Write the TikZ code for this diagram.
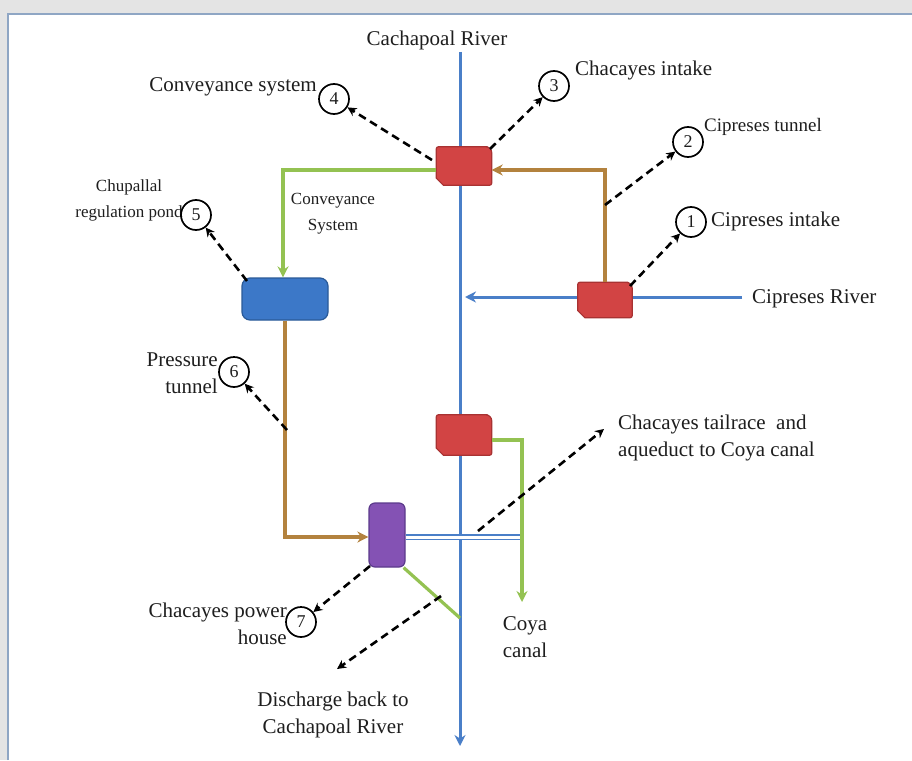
\documentclass[tikz,border=0pt]{standalone}
\usepackage{fontspec}
\setmainfont{Liberation Serif}
\usetikzlibrary{arrows.meta}
\definecolor{bggray}{HTML}{E4E4E4}
\definecolor{framecol}{HTML}{8FA6C4}
\definecolor{riverblue}{HTML}{4A7FC8}
\definecolor{boxred}{HTML}{D24444}
\definecolor{boxredd}{HTML}{A83232}
\definecolor{pondblue}{HTML}{3C78C8}
\definecolor{pondblued}{HTML}{2A5A98}
\definecolor{purp}{HTML}{8452B4}
\definecolor{purpd}{HTML}{5C3A8C}
\definecolor{grn}{HTML}{94C252}
\definecolor{brn}{HTML}{B3823E}
\definecolor{txt}{HTML}{1E1E1E}
\newcommand\snipbox[1]{%
  \filldraw[fill=boxred, draw=boxredd, line width=1.2pt]
    (#1.north west) [rounded corners=2pt] -- ([xshift=-6pt]#1.north east) [rounded corners=6pt] -- (#1.north east) [rounded corners=2pt] -- (#1.south east) [sharp corners] -- ([xshift=7pt]#1.south west) -- ([yshift=7pt]#1.south west) [rounded corners=2pt] -- cycle;}
\begin{document}
\begin{tikzpicture}[x=1pt,y=-1pt,
  lbl/.style={font=\fontsize{21}{27}\selectfont, inner sep=0pt, text=txt},
  slbl/.style={font=\fontsize{17}{26}\selectfont, inner sep=0pt, text=txt},
  mlbl/.style={font=\fontsize{19}{26}\selectfont, inner sep=0pt, text=txt},
  num/.style={circle, draw=black, line width=1.7pt, minimum size=30pt, inner sep=0pt, font=\fontsize{18}{18}\selectfont, text=txt},
  boxanchor/.style={rectangle, inner sep=0pt},
  river/.style={draw=riverblue, line width=3pt},
  grnline/.style={draw=grn, line width=3.2pt},
  brnline/.style={draw=brn, line width=3.2pt},
  tipb/.style={-{Stealth[length=11pt,width=11pt]}},
  dasharrow/.style={draw=black, line width=2.6pt, dash pattern=on 8pt off 5pt, -{Stealth[length=9pt,width=9pt]}}
]
\useasboundingbox (0,0) rectangle (912,760);
\fill[bggray] (0,0) rectangle (912,760);
\fill[white] (7,13) rectangle (912,760);
\draw[framecol, line width=2.5pt] (8,760) -- (8,14) -- (912,14);

% coordinates of rivers
\coordinate (rtop) at (460,52);
\coordinate (rbot) at (460,746);
\coordinate (cipR) at (742,297);
\coordinate (cipL) at (465,297);

\draw[river, tipb] (rtop) -- (rbot);
\draw[river, tipb] (cipR) -- (cipL);

% boxes
\node[boxanchor, minimum width=55pt, minimum height=38pt] (chint) at (464,166) {};
\node[boxanchor, minimum width=54pt, minimum height=35pt] (cipint) at (605,300) {};
\node[boxanchor, minimum width=55pt, minimum height=40pt] (tail) at (464,435) {};
\snipbox{chint}
\snipbox{cipint}
\snipbox{tail}
\node[rectangle, rounded corners=8pt, fill=pondblue, draw=pondblued, line width=1.2pt, minimum width=86pt, minimum height=42pt] (pond) at (285,299) {};
\node[rectangle, rounded corners=6pt, fill=purp, draw=purpd, line width=1.2pt, minimum width=36pt, minimum height=64pt] (ph) at (387,535) {};

% flows
\draw[brnline, tipb] (cipint.north) -- (605,170) -- (chint.east |- 0,170);
\draw[grnline, tipb] (chint.west |- 0,170) -- (283,170) -- (pond.north -| 283,0);
\draw[brnline, tipb] (pond.south) -- (285,537) -- (ph.west |- 0,537);
\draw[draw=riverblue, line width=1.4pt, double=white, double distance=3pt] (ph.east |- 0,537) -- (524,537);
\draw[grnline, tipb] (tail.east |- 0,440) -- (522,440) -- (522,602);
\coordinate (dend) at (460,618);
\draw[grnline] (ph.south east) ++(-2,0) -- (dend);

% labels
\node[lbl] (lcach) at (437,40) {Cachapoal River};
\node[lbl, anchor=east] (lconv) at (317,87) {Conveyance system};
\node[num] (c4) at (334,99) {4};
\node[lbl, anchor=west] (lchint) at (575,70) {Chacayes intake};
\node[num] (c3) at (554,86) {3};
\node[num] (c2) at (688,142) {2};
\node[mlbl, anchor=west] (lciptun) at (704,127) {Cipreses tunnel};
\node[num] (c1) at (691,222) {1};
\node[lbl, anchor=west] (lcipint) at (711,221) {Cipreses intake};
\node[lbl, anchor=west] (lcipriv) at (752,299) {Cipreses River};
\node[slbl, align=center] (lpond) at (129,200) {Chupallal\\regulation pond};
\node[num] (c5) at (196,215) {5};
\node[slbl, align=center] (lconvS) at (333,214) {Conveyance\\System};
\node[lbl, align=right, anchor=east] (lpress) at (218,373) {Pressure\\tunnel};
\node[num] (c6) at (234,372) {6};
\node[lbl, align=left, anchor=west] (ltail) at (618,438) {Chacayes tailrace~ and\\aqueduct to Coya canal};
\node[lbl, align=right, anchor=east] (lph) at (287,624) {Chacayes power\\house};
\node[num] (c7) at (301,622) {7};
\node[lbl, align=center] (ldis) at (333,715) {Discharge back to\\Cachapoal River};
\node[lbl, align=center] (lcoya) at (525,637) {Coya\\canal};

% dashed pointer arrows
\coordinate (s4) at (432,160);
\coordinate (s3) at (490,149);
\coordinate (s2) at (605,205);
\coordinate (s1) at (630,286);
\coordinate (s5) at (247,281);
\coordinate (s6) at (287,430);
\coordinate (s7) at (370,566);
\coordinate (sd) at (441,596);
\coordinate (ed) at (337,669);
\coordinate (st) at (478,531);
\coordinate (et) at (604,429);
\draw[dasharrow] (s4) -- (c4);
\draw[dasharrow] (s3) -- (c3);
\draw[dasharrow] (s2) -- (c2);
\draw[dasharrow] (s1) -- (c1);
\draw[dasharrow] (s5) -- (c5);
\draw[dasharrow] (s6) -- (c6);
\draw[dasharrow] (s7) -- (c7);
\draw[dasharrow] (sd) -- (ed);
\draw[dasharrow] (st) -- (et);
\end{tikzpicture}
\end{document}
